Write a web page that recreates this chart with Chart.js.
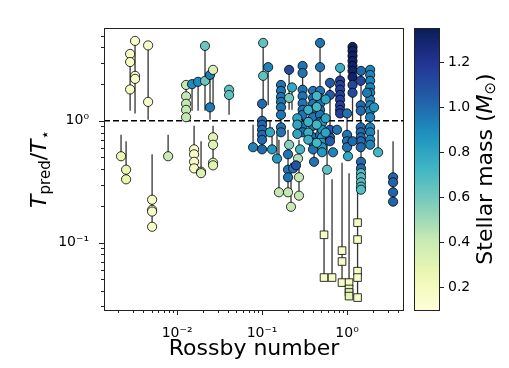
<!DOCTYPE html>
<html lang="en">
<head>
<meta charset="utf-8"/>
<title>Predicted temperature ratio vs Rossby number</title>
<script src="https://cdn.jsdelivr.net/npm/chart.js"></script>
<style>
  html, body { margin: 0; padding: 0; background: #fff; }
</style>
</head>
<body>
<canvas id="chart" width="509" height="368"></canvas>
<script>
// axis limits
const rossbyRange = [0.00138, 4.68];
const ratioRange = [0.028, 5.78];
const massRange = [0.1, 1.35];

// major ticks and their labels
const xMajor = [0.01, 0.1, 1];
const xLabels = ['10\u207B\u00B2', '10\u207B\u00B9', '10\u2070'];
const yMajor = [0.1, 1];
const yLabels = ['10\u207B\u00B9', '10\u2070'];
const massTicks = [0.2, 0.4, 0.6, 0.8, 1.0, 1.2];
const massTickLabels = ['0.2', '0.4', '0.6', '0.8', '1.0', '1.2'];

// stars drawn as circles: Rossby number, mass, T_pred/T_* values, error bar range
const starRossby = [0.0028, 0.0032, 0.00456, 0.00219, 0.00251, 0.00508, 0.00784, 0.01276, 0.0150, 0.01766,
  0.0213, 0.0244, 0.0265, 0.0409, 0.01585, 0.01914, 0.0265, 0.103, 0.118, 0.100,
  0.0784, 0.131, 0.124, 0.167, 0.208, 0.225, 0.208, 0.300, 0.398, 0.481,
  0.508, 0.630, 0.828, 0.828, 1.16, 1.16, 1.45, 1.46, 1.87, 1.45,
  1.46, 1.46, 1.00, 1.027, 1.16, 0.762, 0.684, 0.582, 2.32, 3.48,
  2.08, 1.72, 0.208, 0.202, 0.280, 0.265, 0.232, 0.251, 0.272, 0.158,
  0.202, 0.219, 0.150, 0.409, 0.35, 0.44, 0.56, 0.26];
const starMass = [0.17, 0.17, 0.16, 0.25, 0.27, 0.17, 0.40, 0.42, 0.90, 0.90,
  0.62, 0.95, 0.33, 0.65, 0.18, 0.33, 0.30, 0.65, 0.92, 1.00,
  0.92, 0.85, 0.78, 0.97, 1.12, 0.78, 0.60, 0.97, 0.97, 0.97,
  0.85, 1.05, 1.15, 0.75, 1.30, 1.12, 1.12, 1.00, 0.92, 1.00,
  1.00, 0.68, 0.97, 0.78, 1.00, 0.97, 0.92, 0.65, 0.72, 1.02,
  0.85, 0.95, 0.55, 0.97, 0.72, 0.45, 0.97, 1.08, 0.42, 0.42,
  0.42, 0.40, 0.85, 0.97, 0.75, 0.72, 0.80, 0.80];
const starRatios = [
  [3.54, 3.04, 1.81], [4.53, 2.34, 2.21], [4.16, 1.43], [0.512], [0.397, 0.331],
  [0.225, 0.186, 0.18, 0.135], [0.512], [1.97, 1.59, 1.38, 1.23, 1.07], [2.0], [2.09],
  [4.12, 2.13], [2.38, 1.29], [2.62], [1.80, 1.63], [0.583, 0.531, 0.461, 0.407],
  [0.382, 0.372], [0.732, 0.636, 0.453, 0.431], [4.36, 2.34], [2.76], [1.38, 1.0, 0.927, 0.844, 0.768, 0.699, 0.583],
  [0.607], [0.583], [0.805], [1.97, 1.76, 1.57, 1.43, 1.29, 1.12, 0.885, 0.805], [2.62],
  [1.88], [1.54], [2.82, 2.47, 1.80, 1.59, 1.39, 1.23, 1.12, 0.91, 0.805], [1.76, 1.54, 1.38, 1.23, 1.07, 0.91, 0.732, 0.661, 0.583], [4.36, 2.76, 1.76, 1.54, 1.38, 1.23, 1.12, 0.98, 0.885, 0.768],
  [0.963, 0.844, 0.732, 0.661, 0.607, 0.552], [2.05, 1.63, 0.844, 0.732, 0.68], [2.14, 1.97, 1.80, 1.63, 1.49, 1.34, 1.23, 1.15], [2.72], [4.04, 3.75, 3.41, 3.10, 2.82, 2.57, 2.29],
  [1.97, 1.70], [2.13], [2.57], [2.62, 2.38, 2.13, 1.88, 1.70, 1.49, 1.34, 1.21, 1.07, 0.885, 0.805, 0.699, 0.636], [1.34, 1.21, 0.885, 0.805, 0.732, 0.68, 0.607],
  [0.461, 0.407], [0.372, 0.344, 0.313, 0.288, 0.272], [1.15, 0.768, 0.68, 0.607], [0.512], [0.68],
  [0.844], [0.552], [0.397], [0.552], [0.344, 0.313, 0.259, 0.217],
  [1.29], [1.70], [0.636], [0.531, 0.397, 0.344], [0.583],
  [0.49], [0.407], [0.431], [0.344, 0.243], [0.259],
  [0.259], [0.197], [0.49], [0.461], [1.23, 0.98, 0.80, 0.70],
  [1.60, 1.30, 0.93, 0.66], [1.5, 1.05, 0.80], [1.05, 0.93, 0.78]];
const barLow = [1.21, 1.15, 1.02, 0.512, 0.331, 0.135, 0.512, 1.05, 1.21, 1.21,
  1.21, 1.02, 1.26, 1.12, 0.407, 0.372, 0.431, 1.34, 1.34, 0.583,
  0.607, 0.583, 0.805, 0.805, 1.23, 1.23, null, 0.805, 0.583, 0.768,
  0.552, 0.68, 1.15, null, 1.0, null, null, 1.34, 0.636, 0.607,
  0.272, null, 0.607, null, null, null, null, 0.397, 0.552, 0.217,
  null, null, null, 0.344, null, null, null, null, 0.243, 0.259,
  0.259, 0.197, 0.49, 0.461, null, null, null, null];
const barHigh = [3.54, 4.53, 4.16, 0.768, 0.68, 0.531, 0.768, 1.97, 2.0, 2.09,
  4.12, 2.38, 2.62, 1.80, 0.91, 0.68, 0.91, 4.36, 2.76, 1.38,
  0.927, 0.885, 1.0, 1.97, 2.62, 1.88, null, 2.82, 1.76, 4.36,
  1.12, 2.05, 2.72, null, 4.04, null, null, 2.57, 2.62, 1.49,
  0.607, null, 1.15, null, null, null, null, 0.70, 0.844, 0.68,
  null, null, null, 0.844, null, null, null, null, 0.70, 0.70,
  0.636, 0.453, 0.768, 0.70, null, null, null, null];

// stars drawn as squares
const sqRossby = [0.536, 0.666, 0.873, 1.056, 1.056, 1.33];
const sqMass = [0.17, 0.17, 0.17, 0.17, 0.30, 0.17];
const sqRatios = [[0.116, 0.0517], [0.0517], [0.086, 0.070, 0.047], [0.047], [0.0417, 0.039, 0.0364],
  [0.146, 0.106, 0.0583, 0.0517, 0.0354]];
const sqLow = [0.0517, 0.0517, 0.047, 0.0364, null, 0.0354];
const sqHigh = [0.372, 0.331, 0.453, 0.372, null, 0.453];

// YlGnBu colour map
const ylgnbu = ['#ffffd9', '#edf8b1', '#c7e9b4', '#7fcdbb', '#41b6c4', '#1d91c0', '#225ea8', '#253494', '#081d58'];
function hexRgb(h) {
  return [parseInt(h.slice(1, 3), 16), parseInt(h.slice(3, 5), 16), parseInt(h.slice(5, 7), 16)];
}
function massColor(m) {
  let t = (m - massRange[0]) / (massRange[1] - massRange[0]);
  t = Math.max(0, Math.min(1, t)) * (ylgnbu.length - 1);
  const i = Math.min(Math.floor(t), ylgnbu.length - 2);
  const f = t - i;
  const a = hexRgb(ylgnbu[i]), b = hexRgb(ylgnbu[i + 1]);
  const c = a.map((v, k) => Math.round(v + (b[k] - v) * f));
  return `rgb(${c[0]},${c[1]},${c[2]})`;
}

function buildPoints(ros, masses, ratios) {
  const pts = [], cols = [];
  ros.forEach((ro, i) => {
    ratios[i].forEach(r => {
      pts.push({ x: ro, y: r });
      cols.push(massColor(masses[i]));
    });
  });
  return { pts, cols };
}
function buildBars(ros, lo, hi) {
  const pts = [];
  ros.forEach((ro, i) => {
    if (lo[i] == null) return;
    pts.push({ x: ro, y: lo[i] }, { x: ro, y: hi[i] }, { x: ro, y: null });
  });
  return pts;
}

const circles = buildPoints(starRossby, starMass, starRatios);
const squares = buildPoints(sqRossby, sqMass, sqRatios);
const bars = buildBars(starRossby, barLow, barHigh).concat(buildBars(sqRossby, sqLow, sqHigh));

function minorTicks(range) {
  const out = [];
  for (let e = -3; e <= 1; e++) {
    for (let k = 1; k <= 9; k++) {
      const v = k * Math.pow(10, e);
      if (v >= range[0] && v <= range[1]) out.push(v);
    }
  }
  return out;
}
const xTickVals = minorTicks(rossbyRange);
const yTickVals = minorTicks(ratioRange);
const isMajor = v => Math.abs(Math.log10(v) - Math.round(Math.log10(v))) < 1e-9;

const FONT = '"DejaVu Sans", sans-serif';

function drawParts(ctx, parts) {
  let total = 0;
  parts.forEach(p => { ctx.font = p.font; p.w = ctx.measureText(p.t).width; total += p.w; });
  let x = -total / 2;
  parts.forEach(p => {
    ctx.font = p.font;
    ctx.fillText(p.t, x, p.dy || 0);
    x += p.w;
  });
}

const decorations = {
  id: 'decorations',
  afterDraw(chart) {
    const { ctx, chartArea: a, scales } = chart;
    ctx.save();
    ctx.fillStyle = '#000';
    ctx.strokeStyle = '#222';
    ctx.lineWidth = 1;

    // frame
    ctx.strokeRect(a.left + 0.5, a.top + 0.5, a.right - a.left - 1, a.bottom - a.top);

    // tick marks
    ctx.beginPath();
    xTickVals.forEach(v => {
      const px = Math.round(scales.x.getPixelForValue(v)) + 0.5;
      ctx.moveTo(px, a.bottom);
      ctx.lineTo(px, a.bottom + (isMajor(v) ? 5 : 3));
    });
    yTickVals.forEach(v => {
      const py = Math.round(scales.y.getPixelForValue(v)) + 0.5;
      ctx.moveTo(a.left, py);
      ctx.lineTo(a.left - (isMajor(v) ? 5 : 3), py);
    });
    ctx.stroke();

    // colour bar
    const cb = scales.cb;
    const cbLeft = 414, cbRight = 440;
    const top = cb.getPixelForValue(massRange[1]);
    const bottom = cb.getPixelForValue(massRange[0]);
    const grad = ctx.createLinearGradient(0, bottom, 0, top);
    for (let k = 0; k <= 20; k++) {
      const m = massRange[0] + (massRange[1] - massRange[0]) * k / 20;
      grad.addColorStop(k / 20, massColor(m));
    }
    ctx.fillStyle = grad;
    ctx.fillRect(cbLeft, top, cbRight - cbLeft, bottom - top);
    ctx.strokeRect(cbLeft + 0.5, top + 0.5, cbRight - cbLeft - 1, bottom - top);
    ctx.fillStyle = '#000';
    ctx.font = '14px ' + FONT;
    ctx.textAlign = 'left';
    ctx.textBaseline = 'middle';
    ctx.beginPath();
    massTicks.forEach((v, i) => {
      const py = Math.round(cb.getPixelForValue(v)) + 0.5;
      ctx.moveTo(cbRight, py);
      ctx.lineTo(cbRight + 4, py);
      ctx.fillText(massTickLabels[i], cbRight + 8, py);
    });
    ctx.stroke();

    // axis titles
    ctx.textAlign = 'left';
    ctx.textBaseline = 'middle';
    ctx.save();
    ctx.translate((a.left + a.right) / 2, 349);
    drawParts(ctx, [{ t: 'Rossby number', font: '22px ' + FONT }]);
    ctx.restore();

    ctx.save();
    ctx.translate(40, (a.top + a.bottom) / 2);
    ctx.rotate(-Math.PI / 2);
    drawParts(ctx, [
      { t: 'T', font: 'italic 22px ' + FONT },
      { t: 'pred', font: '15px ' + FONT, dy: 6 },
      { t: '/', font: '22px ' + FONT },
      { t: 'T', font: 'italic 22px ' + FONT },
      { t: '\u22C6', font: '15px ' + FONT, dy: 6 }
    ]);
    ctx.restore();

    ctx.save();
    ctx.translate(486, (a.top + a.bottom) / 2);
    ctx.rotate(-Math.PI / 2);
    drawParts(ctx, [
      { t: 'Stellar mass (', font: '22px ' + FONT },
      { t: 'M', font: 'italic 22px ' + FONT },
      { t: '\u2299', font: '15px ' + FONT, dy: 5 },
      { t: ')', font: '22px ' + FONT }
    ]);
    ctx.restore();

    ctx.restore();
  }
};

new Chart(document.getElementById('chart'), {
  type: 'scatter',
  data: {
    datasets: [
      {
        label: 'stars',
        data: circles.pts,
        pointStyle: 'circle',
        pointRadius: 4.6,
        pointBackgroundColor: circles.cols,
        pointBorderColor: '#000',
        pointBorderWidth: 0.8,
        order: 0
      },
      {
        label: 'M dwarfs',
        data: squares.pts,
        pointStyle: 'rect',
        pointRadius: 5.4,
        pointBackgroundColor: squares.cols,
        pointBorderColor: '#000',
        pointBorderWidth: 0.8,
        order: 0
      },
      {
        label: 'ratio = 1',
        data: [{ x: rossbyRange[0], y: 1 }, { x: rossbyRange[1], y: 1 }],
        showLine: true,
        pointRadius: 0,
        borderColor: '#000',
        borderWidth: 1.5,
        borderDash: [6, 3],
        order: 1
      },
      {
        label: 'error bars',
        data: bars,
        showLine: true,
        spanGaps: false,
        pointRadius: 0,
        borderColor: 'rgba(0,0,0,0.8)',
        borderWidth: 1.3,
        order: 2
      }
    ]
  },
  options: {
    responsive: false,
    animation: false,
    layout: { padding: { top: 28, right: 105, left: 0, bottom: 0 } },
    plugins: { legend: { display: false }, tooltip: { enabled: false } },
    scales: {
      x: {
        type: 'logarithmic',
        min: rossbyRange[0],
        max: rossbyRange[1],
        afterFit(s) { s.height = 58; },
        afterBuildTicks(s) { s.ticks = xTickVals.map(v => ({ value: v })); },
        grid: { display: false },
        border: { display: false },
        ticks: {
          autoSkip: false,
          maxRotation: 0,
          padding: 7,
          color: '#000',
          font: { family: FONT, size: 14 },
          callback(v) {
            const i = xMajor.findIndex(m => Math.abs(m - v) < 1e-12);
            return i >= 0 ? xLabels[i] : '';
          }
        }
      },
      y: {
        type: 'logarithmic',
        min: ratioRange[0],
        max: ratioRange[1],
        afterFit(s) { s.width = 104; },
        afterBuildTicks(s) { s.ticks = yTickVals.map(v => ({ value: v })); },
        grid: { display: false },
        border: { display: false },
        ticks: {
          autoSkip: false,
          padding: 7,
          color: '#000',
          font: { family: FONT, size: 14 },
          callback(v) {
            const i = yMajor.findIndex(m => Math.abs(m - v) < 1e-12);
            return i >= 0 ? yLabels[i] : '';
          }
        }
      },
      cb: {
        type: 'linear',
        axis: 'y',
        display: false,
        min: massRange[0],
        max: massRange[1]
      }
    }
  },
  plugins: [decorations]
});
</script>
</body>
</html>
